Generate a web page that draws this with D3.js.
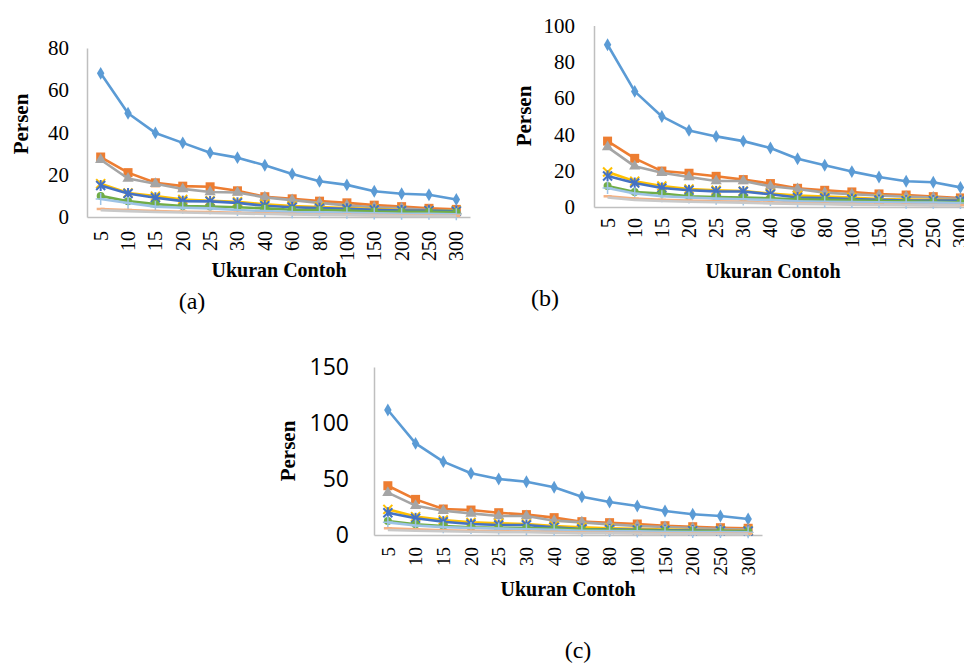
<!DOCTYPE html>
<html>
<head>
  <meta charset="UTF-8">
  <style>
    body { margin: 0; background: #fff; }
    svg { display: block; }
    .axis path { stroke: #bfbfbf; stroke-width: 1.5px; }
    .axis line { display: none; }
  </style>
</head>
<body>
<svg id="chart" width="964" height="666"></svg>
<script src="https://cdn.jsdelivr.net/npm/d3@7"></script>
<script>
// sample sizes (x categories)
const categories = ["5", "10", "15", "20", "25", "30", "40", "60", "80", "100", "150", "200", "250", "300"];

// panel (a) - one row per series
const panelA = [
  [68, 49.1, 39.8, 35.1, 30.4, 28.1, 24.5, 20.4, 16.9, 15.2, 12.2, 11.0, 10.5, 8.3],
  [28.4, 21.0, 16.2, 14.6, 14.3, 12.4, 9.6, 8.6, 7.5, 6.7, 5.6, 4.9, 4.1, 3.6],
  [27.1, 18.2, 15.7, 13.3, 11.8, 11.6, 9.3, 8.0, 6.7, 5.5, 4.6, 4.1, 3.3, 3.0],
  [15.8, 11.4, 9.9, 8.3, 7.7, 7.2, 6.0, 5.2, 4.7, 4.2, 3.8, 3.3, 3.1, 3.0],
  [14.9, 11.1, 9.1, 7.5, 7.4, 6.7, 5.3, 4.6, 4.2, 3.9, 3.4, 3.1, 3.0, 2.8],
  [10.0, 7.5, 6.1, 5.2, 5.0, 4.6, 4.1, 3.4, 3.3, 3.0, 2.6, 2.5, 2.5, 2.3],
  [8.5, 6.6, 4.9, 4.4, 4.1, 3.3, 2.8, 2.3, 2.2, 2.0, 1.7, 1.5, 1.5, 1.3],
  [3.8, 3.3, 2.8, 2.5, 2.3, 2.0, 1.7, 1.4, 1.2, 1.1, 0.9, 0.8, 0.7, 0.6],
  [3.2, 2.8, 2.4, 2.1, 1.9, 1.7, 1.4, 1.2, 1.0, 0.9, 0.7, 0.6, 0.5, 0.5]
];

// panel (b)
const panelB = [
  [89.4, 63.7, 49.9, 42.2, 38.9, 36.3, 32.5, 26.6, 23.0, 19.5, 16.5, 14.2, 13.6, 10.8],
  [36.3, 26.8, 19.8, 18.6, 16.9, 15.1, 12.9, 10.3, 9.2, 8.3, 7.2, 6.6, 5.7, 5.0],
  [33.0, 22.4, 18.9, 16.5, 14.3, 14.3, 11.4, 9.9, 7.9, 7.0, 6.3, 5.7, 5.2, 4.4],
  [19.3, 14.2, 11.6, 9.9, 9.2, 8.8, 7.4, 6.3, 5.7, 5.2, 4.4, 4.1, 3.9, 3.7],
  [17.1, 13.2, 10.5, 9.2, 8.6, 8.5, 7.0, 5.2, 5.0, 4.4, 3.9, 3.5, 3.5, 3.5],
  [11.6, 8.3, 7.4, 5.9, 5.5, 5.2, 4.8, 4.2, 3.9, 3.7, 3.3, 3.1, 2.9, 2.6],
  [10.5, 7.4, 5.9, 5.2, 4.6, 4.2, 3.9, 3.1, 2.9, 2.7, 2.6, 2.4, 2.4, 2.2],
  [5.9, 4.6, 3.9, 3.5, 3.1, 2.9, 2.4, 2.0, 1.8, 1.6, 1.3, 1.2, 1.1, 1.0],
  [5.2, 3.9, 3.3, 2.9, 2.6, 2.4, 2.0, 1.7, 1.5, 1.3, 1.1, 1.0, 0.9, 0.8]
];

// panel (c)
const panelC = [
  [111.6, 81.8, 65.5, 55.1, 50.0, 47.6, 42.6, 34.2, 29.5, 25.9, 21.4, 18.5, 17.0, 14.3],
  [44.0, 31.8, 23.2, 22.3, 19.9, 18.2, 15.5, 11.9, 11.0, 9.8, 8.3, 7.4, 6.5, 6.0],
  [37.8, 26.2, 21.7, 19.3, 17.0, 17.0, 12.8, 11.3, 9.5, 8.0, 7.1, 6.3, 5.4, 4.8],
  [22.9, 16.4, 13.4, 11.3, 10.4, 9.8, 8.0, 6.8, 6.0, 5.5, 4.9, 4.5, 4.2, 4.0],
  [19.9, 14.9, 11.9, 9.8, 8.9, 8.9, 6.8, 5.4, 5.0, 4.6, 4.2, 3.9, 3.8, 3.6],
  [12.5, 9.5, 8.0, 6.8, 6.5, 6.2, 5.7, 5.0, 4.6, 4.3, 3.8, 3.5, 3.3, 3.1],
  [11.3, 8.5, 7.0, 6.2, 5.7, 5.2, 4.6, 3.8, 3.5, 3.2, 2.9, 2.7, 2.6, 2.4],
  [6.0, 5.0, 4.3, 3.8, 3.4, 3.1, 2.7, 2.2, 2.0, 1.8, 1.5, 1.3, 1.2, 1.1],
  [4.5, 3.8, 3.3, 2.9, 2.6, 2.4, 2.0, 1.7, 1.5, 1.3, 1.1, 1.0, 0.9, 0.8]
];

const ticksA = [0, 20, 40, 60, 80];
const ticksB = [0, 20, 40, 60, 80, 100];
const ticksC = [0, 50, 100, 150];

// excel-like series colours + markers
const colors = ["#5b9bd5", "#ed7d31", "#a5a5a5", "#ffc000", "#4472c4", "#70ad47", "#9dc3e6", "#f4b183", "#c9c9c9"];
const markers = ["diamond", "square", "triangle", "x", "star", "circle", "plus", "dash", "none"];

const serif = "'Liberation Serif', 'Times New Roman', serif";
const sans = "'Open Sans', 'Noto Sans', sans-serif";

const svg = d3.select("#chart");

function drawMarker(g, type, color) {
  if (type == "diamond") {
    g.append("path").attr("d", d3.symbol(d3.symbolDiamond, 48)()).attr("fill", color);
  } else if (type == "square") {
    g.append("rect").attr("x", -4.5).attr("y", -4.5).attr("width", 9).attr("height", 9).attr("fill", color);
  } else if (type == "triangle") {
    g.append("path").attr("d", d3.symbol(d3.symbolTriangle, 55)()).attr("fill", color);
  } else if (type == "circle") {
    g.append("circle").attr("r", 4).attr("fill", color);
  } else if (type == "x" || type == "star") {
    g.append("path").attr("d", "M-4.5,-4.5L4.5,4.5M-4.5,4.5L4.5,-4.5").attr("stroke", color).attr("stroke-width", 2);
    if (type == "star") g.append("path").attr("d", "M0,-5.5L0,5.5").attr("stroke", color).attr("stroke-width", 2);
  } else if (type == "plus") {
    g.append("path").attr("d", "M-5,0L5,0M0,-6L0,6").attr("stroke", color).attr("stroke-width", 1.5);
  } else if (type == "dash") {
    g.append("path").attr("d", "M-4,0L4,0").attr("stroke", color).attr("stroke-width", 2.5);
  }
}

function drawPanel(p, data, ticks) {
  const x = d3.scaleBand().domain(categories).range([p.left, p.right]);
  const y = d3.scaleLinear().domain([0, d3.max(ticks)]).range([p.bottom, p.top]);
  const cx = c => x(c) + x.bandwidth() / 2;

  const g = svg.append("g");

  // y axis
  const ya = g.append("g").attr("class", "axis")
    .attr("transform", "translate(" + p.left + ",0)")
    .call(d3.axisLeft(y).tickValues(ticks).tickSize(0).tickSizeOuter(0).tickPadding(p.ypad));
  ya.attr("font-family", null).attr("font-size", null);
  ya.selectAll("text")
      .style("font-family", p.yfont)
      .style("font-size", p.yfs + "px")
      .attr("fill", "#000");

  // x axis with rotated labels
  const xa = g.append("g").attr("class", "axis")
    .attr("transform", "translate(0," + p.bottom + ")")
    .call(d3.axisBottom(x).tickSize(0).tickSizeOuter(0));
  xa.attr("font-family", null).attr("font-size", null);
  xa.selectAll("text")
      .style("font-family", serif)
      .style("font-size", p.xfs + "px")
      .attr("fill", "#000")
      .attr("y", 0)
      .attr("x", -p.xpad)
      .attr("dy", "0.35em")
      .attr("transform", "rotate(-90)")
      .style("text-anchor", "end");

  const line = d3.line().x((d, i) => cx(categories[i])).y(d => y(d));

  data.forEach((s, k) => {
    g.append("path")
      .datum(s)
      .attr("fill", "none")
      .attr("stroke", colors[k])
      .attr("stroke-width", 2.6)
      .attr("stroke-linejoin", "round")
      .attr("d", line);
    s.forEach((v, i) => {
      const m = g.append("g").attr("transform", "translate(" + cx(categories[i]) + "," + y(v) + ")");
      drawMarker(m, markers[k], colors[k]);
    });
  });

  // labels
  g.append("text")
    .attr("transform", "translate(" + p.ylabX + "," + p.ylabY + ") rotate(-90)")
    .attr("text-anchor", "middle").attr("dy", "0.35em")
    .style("font-family", serif)
    .style("font-size", "21px").style("font-weight", "bold")
    .text("Persen");
  g.append("text")
    .attr("x", p.xlabX).attr("y", p.xlabY)
    .attr("text-anchor", "middle")
    .style("font-family", serif)
    .style("font-size", "20px").style("font-weight", "bold")
    .text("Ukuran Contoh");
  g.append("text")
    .attr("x", p.capX).attr("y", p.capY)
    .attr("text-anchor", "middle")
    .style("font-family", serif)
    .style("font-size", "24px")
    .text(p.caption);
}

drawPanel({left: 87, right: 470, top: 48, bottom: 217, ypad: 18, yfont: serif, yfs: 21, xfs: 20, xpad: 14,
  ylabX: 21, ylabY: 124, xlabX: 279, xlabY: 277, capX: 192, capY: 309, caption: "(a)"}, panelA, ticksA);

drawPanel({left: 594, right: 974, top: 25.5, bottom: 207, ypad: 19, yfont: serif, yfs: 21, xfs: 20, xpad: 11,
  ylabX: 524, ylabY: 116, xlabX: 773, xlabY: 278, capX: 545, capY: 306, caption: "(b)"}, panelB, ticksB);

drawPanel({left: 374, right: 762, top: 367, bottom: 535, ypad: 25, yfont: sans, yfs: 23, xfs: 19, xpad: 12,
  ylabX: 288, ylabY: 451, xlabX: 568, xlabY: 596, capX: 578, capY: 658, caption: "(c)"}, panelC, ticksC);
</script>
</body>
</html>
